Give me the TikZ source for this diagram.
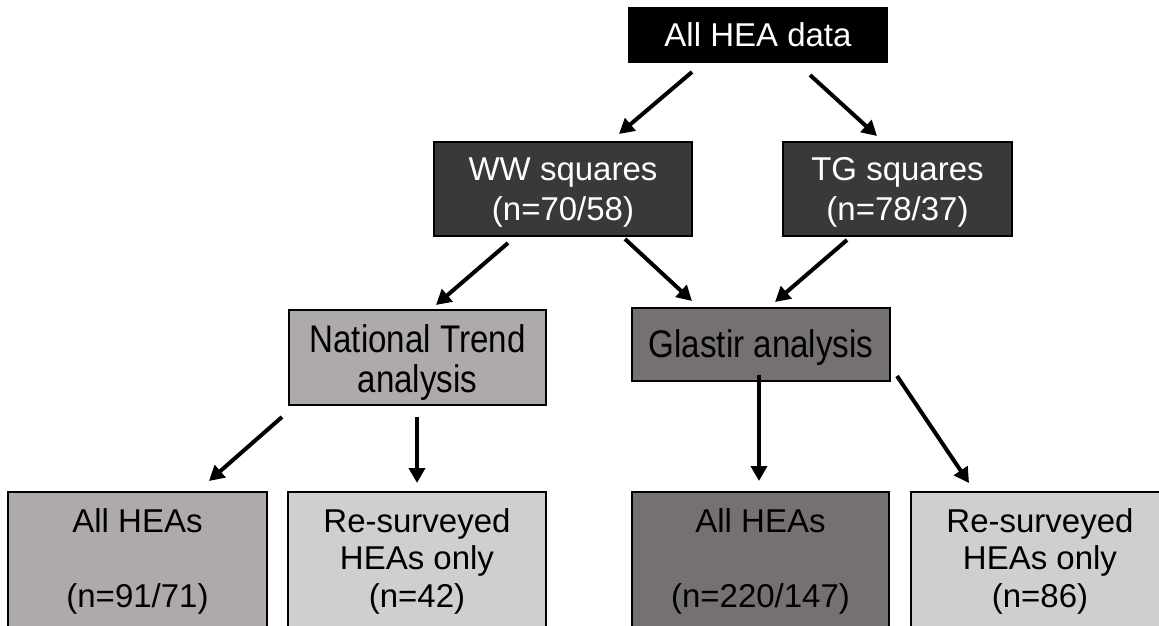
\documentclass[tikz,border=0pt]{standalone}
\usepackage{fontspec}
\setmainfont{Liberation Sans}
\newfontfamily\narrowfont[FakeStretch=0.86]{Liberation Sans}
\usetikzlibrary{arrows.meta}
\definecolor{cdark}{HTML}{3B3838}
\definecolor{cmid}{HTML}{757171}
\definecolor{clight}{HTML}{AEAAAA}
\definecolor{cpale}{HTML}{D0CECE}
\begin{document}
\begin{tikzpicture}[x=1pt,y=-1pt,
  box/.style={draw=black, line width=1.2pt, inner sep=0pt, outer sep=0pt},
  lbl/.style={anchor=base, align=center, inner sep=0pt, font=\fontsize{33}{40}\selectfont},
  blbl/.style={anchor=base, align=center, inner sep=0pt, font=\fontsize{33}{37.5}\selectfont},
  nlbl/.style={anchor=base, align=center, inner sep=0pt, font=\narrowfont\fontsize{38.5}{40}\selectfont},
  arr/.style={line width=4pt, -{Triangle[length=15pt,width=16pt]}}]
\useasboundingbox (0,0) rectangle (1159,626);
\clip (0,0) rectangle (1159,626);
% boxes
\node[box, fill=black, minimum width=258pt, minimum height=54pt] (top) at (758,35) {};
\node[box, fill=cdark, minimum width=258pt, minimum height=94pt] (ww) at (563,189) {};
\node[box, fill=cdark, minimum width=229pt, minimum height=94pt] (tg) at (897.5,189) {};
\node[box, fill=clight, minimum width=257pt, minimum height=95pt] (nt) at (417.5,357.5) {};
\node[box, fill=cmid, minimum width=258pt, minimum height=73pt] (gl) at (761,344.5) {};
\node[box, fill=clight, minimum width=259pt, minimum height=160pt, anchor=north] (b1) at (137.5,492) {};
\node[box, fill=cpale, minimum width=258pt, minimum height=160pt, anchor=north] (b2) at (417,492) {};
\node[box, fill=cmid, minimum width=257pt, minimum height=160pt, anchor=north] (b3) at (760.5,492) {};
\node[box, fill=cpale, minimum width=258pt, minimum height=160pt, anchor=north] (b4) at (1040,492) {};
% texts (base anchor = baseline of last line)
\node[lbl, text=white] (toptx) at (758,47) {All HEA data};
\node[lbl, text=white] (wwtx) at (563,220) {WW squares\\(n=70/58)};
\node[lbl, text=white] (tgtx) at (897.5,220) {TG squares\\(n=78/37)};
\node[nlbl] (nttx) at (417.5,392) {National Trend\\analysis};
\node[nlbl] (gltx) at (761,357) {Glastir analysis};
\node[blbl] (b1tx) at (137.5,607) {All HEAs\\[37.5pt](n=91/71)};
\node[blbl] (b2tx) at (417,607) {Re-surveyed\\HEAs only\\(n=42)};
\node[blbl] (b3tx) at (760.5,607) {All HEAs\\[37.5pt](n=220/147)};
\node[blbl] (b4tx) at (1040,607) {Re-surveyed\\HEAs only\\(n=86)};
% connector end points
\coordinate (a1s) at (692,72);  \coordinate (a1e) at (619,134);
\coordinate (a2s) at (810,75);  \coordinate (a2e) at (877,136);
\coordinate (a3s) at (508,243); \coordinate (a3e) at (436,305);
\coordinate (a4s) at (625,239); \coordinate (a4e) at (692,301);
\coordinate (a5s) at (847,240); \coordinate (a5e) at (775,302);
\coordinate (a6s) at (282,417); \coordinate (a6e) at (209,481);
\coordinate (a7s) at (417,417); \coordinate (a7e) at (417,483);
\coordinate (a8s) at (759,375); \coordinate (a8e) at (759,481);
\coordinate (a9s) at (897,376); \coordinate (a9e) at (969,483);
\draw[arr] (a1s) -- (a1e);
\draw[arr] (a2s) -- (a2e);
\draw[arr] (a3s) -- (a3e);
\draw[arr] (a4s) -- (a4e);
\draw[arr] (a5s) -- (a5e);
\draw[arr] (a6s) -- (a6e);
\draw[arr] (a7s) -- (a7e);
\draw[arr] (a8s) -- (a8e);
\draw[arr] (a9s) -- (a9e);
\end{tikzpicture}
\end{document}
